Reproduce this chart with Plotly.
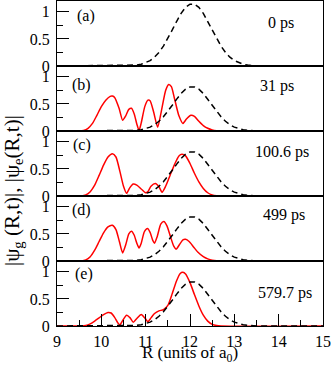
import plotly.graph_objects as go

# excited-state |psi_e| (dashed black)
r_dash = [9.0, 10.6, 10.7, 10.8, 10.9, 11.0, 11.1, 11.2, 11.3, 11.4, 11.5, 11.6, 11.7, 11.8, 11.9,
          12.0, 12.1, 12.2, 12.3, 12.4, 12.5, 12.6, 12.7, 12.8, 12.9, 13.0, 13.1, 13.2, 13.3, 13.4, 13.5, 15.0]
dash_a = [0, 0.003, 0.008, 0.017, 0.032, 0.059, 0.100, 0.163, 0.252, 0.367, 0.507, 0.666, 0.826, 0.972, 1.082,
          1.142, 1.142, 1.082, 0.972, 0.826, 0.666, 0.507, 0.367, 0.252, 0.163, 0.100, 0.059, 0.032, 0.017, 0.008, 0.003, 0]
dash_later = [0, 0.002, 0.006, 0.012, 0.023, 0.042, 0.071, 0.116, 0.180, 0.262, 0.362, 0.475, 0.589, 0.693, 0.772,
              0.814, 0.814, 0.772, 0.693, 0.589, 0.475, 0.362, 0.262, 0.180, 0.116, 0.071, 0.042, 0.023, 0.012, 0.006, 0.002, 0]

# ground-state |psi_g| (red)
r_b = [9.0, 9.5, 9.6, 9.7, 9.8, 9.9, 10.0, 10.1, 10.2, 10.25, 10.3, 10.4, 10.48, 10.55, 10.62, 10.68, 10.74,
       10.8, 10.85, 10.9, 10.98, 11.05, 11.1, 11.18, 11.27, 11.35, 11.45, 11.52, 11.58, 11.65, 11.75, 11.84,
       11.92, 12.02, 12.1, 12.2, 12.3, 12.4, 12.5, 12.6, 12.7, 15.0]
g_b = [0, 0, 0.01, 0.05, 0.14, 0.29, 0.45, 0.57, 0.64, 0.645, 0.62, 0.42, 0.2, 0.28, 0.40, 0.42, 0.32,
       0.13, 0.01, 0.15, 0.45, 0.57, 0.56, 0.35, 0.07, 0.35, 0.75, 0.86, 0.82, 0.6, 0.28, 0.14,
       0.22, 0.29, 0.27, 0.18, 0.1, 0.05, 0.02, 0.005, 0, 0]

r_c = [9.0, 9.55, 9.65, 9.75, 9.85, 9.95, 10.05, 10.15, 10.25, 10.33, 10.42, 10.5, 10.57, 10.64, 10.72, 10.8,
       10.9, 11.0, 11.05, 11.12, 11.22, 11.3, 11.37, 11.45, 11.55, 11.65, 11.75, 11.82, 11.9, 12.0, 12.1,
       12.2, 12.3, 12.4, 12.5, 12.6, 12.7, 15.0]
g_c = [0, 0, 0.02, 0.08, 0.2, 0.38, 0.57, 0.72, 0.78, 0.72, 0.45, 0.18, 0.05, 0.15, 0.22, 0.2,
       0.13, 0.06, 0.08, 0.18, 0.23, 0.17, 0.07, 0.18, 0.38, 0.58, 0.74, 0.77, 0.74, 0.6, 0.42,
       0.26, 0.14, 0.06, 0.02, 0.005, 0, 0]

r_d = [9.0, 9.55, 9.65, 9.75, 9.85, 9.95, 10.05, 10.15, 10.25, 10.33, 10.41, 10.48, 10.55, 10.62, 10.68,
       10.74, 10.8, 10.85, 10.9, 10.97, 11.04, 11.1, 11.16, 11.2, 11.26, 11.34, 11.41, 11.48, 11.56, 11.63,
       11.69, 11.76, 11.84, 11.9, 11.98, 12.08, 12.18, 12.3, 12.4, 12.5, 12.6, 12.7, 15.0]
g_d = [0, 0, 0.02, 0.08, 0.2, 0.36, 0.52, 0.63, 0.66, 0.58, 0.35, 0.15, 0.3, 0.5, 0.55,
       0.48, 0.33, 0.24, 0.33, 0.54, 0.6, 0.53, 0.38, 0.33, 0.45, 0.68, 0.73, 0.65, 0.45, 0.28,
       0.22, 0.3, 0.39, 0.4, 0.36, 0.26, 0.16, 0.08, 0.04, 0.015, 0.003, 0, 0]

r_e = [9.0, 9.55, 9.65, 9.75, 9.85, 9.95, 10.05, 10.15, 10.22, 10.3, 10.37, 10.42, 10.48, 10.57, 10.65,
       10.72, 10.8, 10.9, 10.98, 11.05, 11.12, 11.2, 11.3, 11.4, 11.5, 11.6, 11.7, 11.78, 11.84, 11.9,
       12.0, 12.1, 12.2, 12.3, 12.4, 12.5, 12.6, 12.7, 15.0]
g_e = [0, 0, 0.01, 0.04, 0.09, 0.15, 0.21, 0.25, 0.24, 0.16, 0.06, 0.02, 0.1, 0.2, 0.15,
       0.07, 0.14, 0.21, 0.15, 0.08, 0.15, 0.23, 0.28, 0.3, 0.38, 0.6, 0.84, 0.97, 0.99, 0.96,
       0.8, 0.58, 0.37, 0.2, 0.09, 0.03, 0.008, 0, 0]

panel_tags = ["(a)", "(b)", "(c)", "(d)", "(e)"]
times = ["0 ps", "31 ps", "100.6 ps", "499 ps", "579.7 ps"]

red_curves = [None, (r_b, g_b), (r_c, g_c), (r_d, g_d), (r_e, g_e)]
dash_curves = [dash_a, dash_later, dash_later, dash_later, dash_later]

FONT = "Liberation Serif, Times New Roman, Times, serif"
W, H = 332, 370
L, R_, T, B = 57, 9, 1, 44
PW, PH = W - L - R_, H - T - B
n = 5

fig = go.Figure()

for i in range(n):
    k = "" if i == 0 else str(i + 1)
    if red_curves[i] is not None:
        rx, ry = red_curves[i]
        fig.add_trace(go.Scatter(x=rx, y=ry, mode="lines", xaxis="x" + k, yaxis="y" + k,
                                 line=dict(color="#ff0000", width=1.5, shape="spline", smoothing=0.6),
                                 showlegend=False, hoverinfo="skip"))
    fig.add_trace(go.Scatter(x=r_dash, y=dash_curves[i], mode="lines", xaxis="x" + k, yaxis="y" + k,
                             line=dict(color="black", width=1.5, dash="6px,4px"),
                             showlegend=False, hoverinfo="skip"))

layout = dict(
    template="none",
    width=W, height=H,
    margin=dict(l=L, r=R_, t=T, b=B, autoexpand=False),
    paper_bgcolor="white", plot_bgcolor="white",
    font=dict(family=FONT, size=16, color="black"),
    showlegend=False,
)

for i in range(n):
    k = "" if i == 0 else str(i + 1)
    top = 1 - i / n
    bot = 1 - (i + 1) / n
    last = i == n - 1
    layout["xaxis" + k] = dict(
        domain=[0, 1], anchor="y" + k, range=[9, 15], automargin=False,
        showline=True, mirror=True, linecolor="black", linewidth=1,
        showgrid=False, zeroline=False,
        showticklabels=last, ticklabeloverflow="allow",
        ticks="inside" if last else "", ticklen=12, tickwidth=1, tickcolor="black",
        tick0=9, dtick=1, ticklabelstandoff=1,
        minor=dict(ticks="inside" if last else "", ticklen=6, dtick=0.5, tickcolor="black", showgrid=False),
        matches=None if i == 0 else "x",
    )
    layout["yaxis" + k] = dict(
        domain=[bot, top], anchor="x" + k, range=[0, 1.2], automargin=False,
        showline=True, mirror=True, linecolor="black", linewidth=1,
        showgrid=False, zeroline=False, ticklabeloverflow="allow",
        ticks="inside", ticklen=12, tickwidth=1, tickcolor="black",
        tick0=0, dtick=0.5, ticklabelstandoff=3,
        minor=dict(ticks="inside", ticklen=6, dtick=0.25, tickcolor="black", showgrid=False),
    )

fig.update_layout(**layout)

tag_pos = [(0.108, 0.77), (0.093, 0.71), (0.093, 0.785), (0.091, 0.785), (0.102, 0.80)]
time_pos = [(0.842, 0.66), (0.827, 0.69), (0.844, 0.68), (0.855, 0.71), (0.859, 0.51)]
for i in range(n):
    k = "" if i == 0 else str(i + 1)
    fig.add_annotation(text=panel_tags[i], x=tag_pos[i][0], y=tag_pos[i][1],
                       xref="x" + k + " domain", yref="y" + k + " domain",
                       showarrow=False, font=dict(size=16), xanchor="center", yanchor="middle")
    fig.add_annotation(text=times[i], x=time_pos[i][0], y=time_pos[i][1],
                       xref="x" + k + " domain", yref="y" + k + " domain",
                       showarrow=False, font=dict(size=16), xanchor="center", yanchor="middle")

# axis titles placed by pixel position (converted to paper coords)
fig.add_annotation(text="|\u03c8<sub>g</sub> (R,t)|, |\u03c8<sub>e</sub>(R,t)|",
                   x=(13 - L) / PW, y=(H - B - 191) / PH, xref="paper", yref="paper",
                   textangle=-90, showarrow=False, font=dict(size=21),
                   xanchor="center", yanchor="middle")
fig.add_annotation(text="R (units of a<sub>0</sub>)",
                   x=(190 - L) / PW, y=(H - B - 354) / PH, xref="paper", yref="paper",
                   showarrow=False, font=dict(size=17),
                   xanchor="center", yanchor="middle")

# page body has a default 8px margin; remove it so the figure sits at the window origin
fig.write_html("out.html", config={"displayModeBar": False},
               post_script="document.body.style.margin='0';")
